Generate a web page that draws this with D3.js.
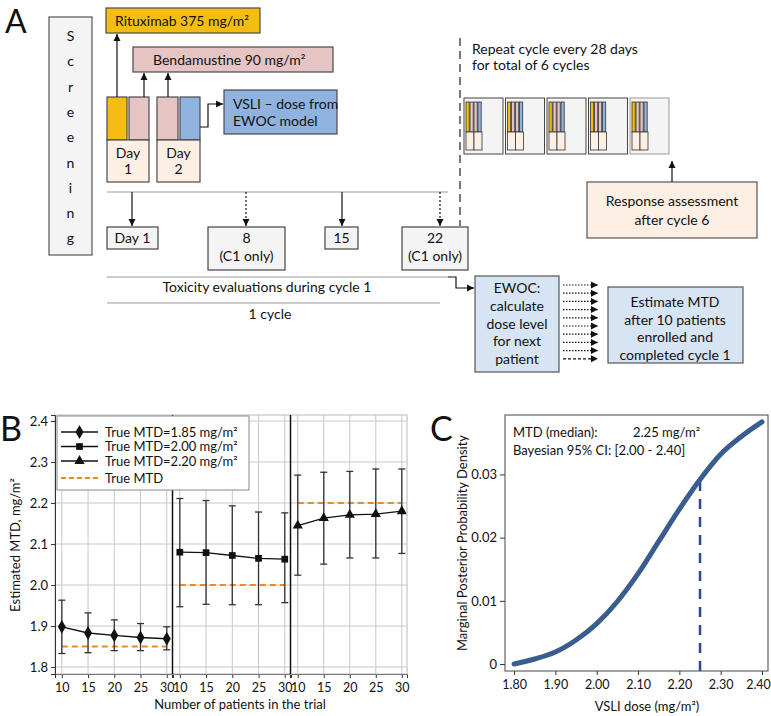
<!DOCTYPE html>
<html><head><meta charset="utf-8">
<script src="https://cdn.jsdelivr.net/npm/d3@7"></script>
<style>body{margin:0;background:#fff}svg{display:block;font-family:Lato,"Noto Sans",sans-serif}</style>
</head><body>
<script>
// ---------- Data ----------
const nPatients = [10, 15, 20, 25, 30];
const trueMTD = [1.85, 2.00, 2.20];
const seriesNames = ["True MTD=1.85 mg/m²", "True MTD=2.00 mg/m²", "True MTD=2.20 mg/m²"];
const est185 = [1.898, 1.883, 1.877, 1.872, 1.869];
const lo185  = [1.833, 1.835, 1.840, 1.840, 1.842];
const hi185  = [1.963, 1.932, 1.915, 1.906, 1.898];
const est200 = [2.080, 2.079, 2.072, 2.065, 2.063];
const lo200  = [1.947, 1.953, 1.952, 1.952, 1.957];
const hi200  = [2.211, 2.206, 2.193, 2.178, 2.176];
const est220 = [2.145, 2.163, 2.171, 2.173, 2.180];
const lo220  = [2.024, 2.051, 2.066, 2.066, 2.077];
const hi220  = [2.268, 2.275, 2.277, 2.283, 2.283];
const yTicksB = [1.8, 1.9, 2.0, 2.1, 2.2, 2.3, 2.4];

const doses   = [1.80, 1.85, 1.90, 1.95, 2.00, 2.05, 2.10, 2.15, 2.20, 2.25, 2.30, 2.35, 2.40];
const density = [0.0000, 0.0008, 0.0019, 0.0038, 0.0064, 0.0099, 0.0143, 0.0194, 0.0245, 0.0292, 0.0332, 0.0360, 0.0383];
const mtdMedian = 2.25;
const xTicksC = [1.80, 1.90, 2.00, 2.10, 2.20, 2.30, 2.40];
const yTicksC = [0, 0.01, 0.02, 0.03];
const textC = ["MTD (median):", "2.25 mg/m²", "Bayesian 95% CI: [2.00 - 2.40]"];

// Panel A text
const screening = "Screening".split("");
const evalDays = ["Day 1", "8|(C1 only)", "15", "22|(C1 only)"];
const ewocLines = ["EWOC:", "calculate", "dose level", "for next", "patient"];
const estLines = ["Estimate MTD", "after 10 patients", "enrolled and", "completed cycle 1"];

// ---------- Setup ----------
const svg = d3.select("body").append("svg").attr("width", 771).attr("height", 716);
const FS = 14;
const gold = "#f5bd12", pink = "#e6c4c4", blueDark = "#8fb2de", peach = "#fdefe3", lightBlue = "#d6e4f4", boxGrey = "#f4f4f4";

function rect(x, y, w, h, fill, stroke = "#4a4a4a", sw = 1.2) {
  return svg.append("rect").attr("x", x).attr("y", y).attr("width", w).attr("height", h)
    .attr("fill", fill).attr("stroke", stroke).attr("stroke-width", sw);
}
function text(x, y, s, opts = {}) {
  return svg.append("text").attr("x", x).attr("y", y).text(s)
    .attr("font-size", opts.size || FS).attr("text-anchor", opts.anchor || "start")
    .attr("fill", opts.fill || "#111");
}
function arrow(pts, dash, color = "#111") {
  svg.append("path").attr("d", d3.line()(pts)).attr("fill", "none").attr("stroke", color)
    .attr("stroke-width", 1.2).attr("stroke-dasharray", dash || null);
  const [x1, y1] = pts[pts.length - 2], [x2, y2] = pts[pts.length - 1];
  const a = Math.atan2(y2 - y1, x2 - x1), L = 7, W = 3.5;
  const p = [[x2, y2],
    [x2 - L * Math.cos(a) + W * Math.sin(a), y2 - L * Math.sin(a) - W * Math.cos(a)],
    [x2 - L * Math.cos(a) - W * Math.sin(a), y2 - L * Math.sin(a) + W * Math.cos(a)]];
  svg.append("path").attr("d", "M" + p.join("L") + "Z").attr("fill", color);
}
function hline(x1, x2, y, color = "#999", dash) {
  svg.append("line").attr("x1", x1).attr("x2", x2).attr("y1", y).attr("y2", y)
    .attr("stroke", color).attr("stroke-width", 1.2).attr("stroke-dasharray", dash || null);
}

// ---------- Panel A ----------
text(5, 33, "A", { size: 32 });
rect(49, 17, 43, 238, boxGrey, "#555");
screening.forEach((c, i) => text(70.5, 41 + i * 25.3, c, { anchor: "middle" }));

rect(106, 8, 154, 25, gold);
text(115, 26, "Rituximab 375 mg/m²");
rect(133, 47, 200, 25, pink);
text(153, 65, "Bendamustine 90 mg/m²");

rect(107, 97, 20, 43, gold); rect(129, 97, 20, 43, pink);
rect(107, 140, 42, 42, peach);
text(128, 158, "Day", { anchor: "middle" }); text(128, 174, "1", { anchor: "middle" });
rect(157, 97, 21, 43, pink); rect(180, 97, 20, 43, blueDark);
rect(157, 140, 43, 42, peach);
text(178.5, 158, "Day", { anchor: "middle" }); text(178.5, 174, "2", { anchor: "middle" });
arrow([[117, 97], [117, 34]]);
arrow([[144, 97], [144, 73]]);
arrow([[168, 97], [168, 73]]);

rect(224, 90, 113, 44, blueDark);
text(233, 109, "VSLI   – dose from");
text(233, 126, "EWOC model");
arrow([[200, 127], [208, 127], [208, 104], [223, 104]]);

hline(107, 448, 192);
const dayX = [132, 246, 342, 440];
dayX.forEach((x, i) => arrow([[x, 192], [x, 226]], i % 2 ? "2,2" : null));
const dayBoxes = [[107, 51, 22], [208, 77, 43], [325, 33, 22], [402, 66, 43]];
evalDays.forEach((s, i) => {
  const [bx, bw, bh] = dayBoxes[i];
  rect(bx, 227, bw, bh, boxGrey, "#444");
  s.split("|").forEach((t, j) => text(bx + bw / 2, 243 + j * 18, t, { anchor: "middle" }));
});

svg.append("line").attr("x1", 460).attr("x2", 460).attr("y1", 38).attr("y2", 226)
  .attr("stroke", "#222").attr("stroke-width", 1.2).attr("stroke-dasharray", "8,5");

hline(107, 448, 277);
arrow([[448, 277], [456, 277], [456, 288], [474, 288]]);
text(267, 292, "Toxicity evaluations during cycle 1", { anchor: "middle" });
hline(107, 440, 303);
text(270, 319, "1 cycle", { anchor: "middle" });

text(472, 54, "Repeat cycle every 28 days");
text(472, 70, "for total of 6 cycles");
for (let i = 0; i < 5; i++) {
  const x0 = 464 + i * 41.5;
  rect(x0, 98, 39, 56, boxGrey, i === 4 ? "#999" : "#444", 1);
  const st = [[1, gold], [5, pink], [9, pink], [13, blueDark]];
  st.forEach(([dx, f]) => rect(x0 + dx + 1, 102, 3.2, 30, f, "#333", 0.8));
  rect(x0 + 2, 132, 8, 18, peach, "#333", 0.8);
  rect(x0 + 10, 132, 8, 18, peach, "#333", 0.8);
}
rect(587, 182, 170, 56, peach, "#555");
text(672, 206, "Response assessment", { anchor: "middle" });
text(672, 225, "after cycle 6", { anchor: "middle" });
arrow([[672, 182], [672, 161]]);

rect(475, 276, 84, 96, lightBlue, "#555");
ewocLines.forEach((s, i) => text(517, 293 + i * 17.8, s, { anchor: "middle" }));
for (let i = 0; i < 10; i++) {
  arrow([[563, 285 + i * 8.2], [598, 285 + i * 8.2]], i === 9 ? "3,2" : "1.5,1.5");
}
rect(608, 287, 135, 76, lightBlue, "#555");
estLines.forEach((s, i) => text(675, 307 + i * 17.7, s, { anchor: "middle" }));

// ---------- Panel B ----------
text(0, 441, "B", { size: 34 });
const yB = d3.scaleLinear().domain([1.783, 2.4146]).range([674, 415]);
const panelsX = [[55, 172], [173, 290], [291, 407]];
const estAll = [est185, est200, est220], loAll = [lo185, lo200, lo220], hiAll = [hi185, hi200, hi220];
const symbols = [d3.symbolDiamond, d3.symbolSquare, d3.symbolTriangle];
const symSize = [55, 45, 45];
const gB = svg.append("g");
yTicksB.forEach(v => gB.append("line").attr("x1", 55).attr("x2", 407).attr("y1", yB(v)).attr("y2", yB(v))
  .attr("stroke", "#c8c8c8").attr("stroke-width", 1));
panelsX.forEach((r, i) => {
  const x = d3.scaleLinear().domain([8.7, 31]).range(r);
  const g = gB.append("g");
  nPatients.forEach(n => g.append("line").attr("x1", x(n)).attr("x2", x(n)).attr("y1", 415).attr("y2", 674)
    .attr("stroke", "#c8c8c8"));
  g.append("g").attr("transform", "translate(0,674)")
    .call(d3.axisBottom(x).tickValues(nPatients).tickSize(4).tickFormat(d3.format("d")))
    .call(a => { a.select(".domain").attr("stroke", "#333"); a.selectAll("line").attr("stroke", "#333");
      a.selectAll("text").attr("font-size", 12.5).attr("font-family", "Lato").attr("fill", "#111").attr("dy", "0.9em"); });
  g.append("line").attr("x1", x(10)).attr("x2", x(30)).attr("y1", yB(trueMTD[i])).attr("y2", yB(trueMTD[i]))
    .attr("stroke", "#e8892b").attr("stroke-width", 2).attr("stroke-dasharray", "6,4");
  nPatients.forEach((n, j) => {
    const cx = x(n);
    g.append("line").attr("x1", cx).attr("x2", cx).attr("y1", yB(loAll[i][j])).attr("y2", yB(hiAll[i][j]))
      .attr("stroke", "#333").attr("stroke-width", 1.3);
    [loAll[i][j], hiAll[i][j]].forEach(v => g.append("line").attr("x1", cx - 3.5).attr("x2", cx + 3.5)
      .attr("y1", yB(v)).attr("y2", yB(v)).attr("stroke", "#333").attr("stroke-width", 1.3));
  });
  g.append("path").datum(estAll[i]).attr("fill", "none").attr("stroke", "#111").attr("stroke-width", 1.3)
    .attr("d", d3.line().x((d, j) => x(nPatients[j])).y(d => yB(d)));
  estAll[i].forEach((v, j) => g.append("path").attr("d", d3.symbol(symbols[i], symSize[i])())
    .attr("transform", `translate(${x(nPatients[j])},${yB(v)})`).attr("fill", "#111"));
});
gB.append("rect").attr("x", 55).attr("y", 415).attr("width", 352).attr("height", 259)
  .attr("fill", "none").attr("stroke", "#bbb");
[172.5, 290.5].forEach(x => gB.append("line").attr("x1", x).attr("x2", x).attr("y1", 415).attr("y2", 674)
  .attr("stroke", "#111").attr("stroke-width", 1.5));
gB.append("g").attr("transform", "translate(55,0)")
  .call(d3.axisLeft(yB).tickValues(yTicksB).tickSize(4).tickFormat(d3.format(".1f")))
  .call(a => { a.select(".domain").attr("stroke", "#333"); a.selectAll("line").attr("stroke", "#333");
    a.selectAll("text").attr("font-size", 13).attr("font-family", "Lato").attr("fill", "#111"); });
text(240, 709, "Number of patients in the trial", { anchor: "middle", size: 13 });
text(0, 0, "Estimated MTD, mg/m²", { anchor: "middle", size: 13 }).attr("transform", "translate(20,545) rotate(-90)");
// legend (drawn on top of the dividers)
const gL = svg.append("g");
gL.append("rect").attr("x", 57).attr("y", 416).attr("width", 192).attr("height", 74)
  .attr("fill", "#fff").attr("stroke", "#888");
const legY = [432, 446.5, 461, 478];
seriesNames.forEach((s, i) => {
  gL.append("line").attr("x1", 61).attr("x2", 98).attr("y1", legY[i]).attr("y2", legY[i]).attr("stroke", "#111").attr("stroke-width", 1.3);
  gL.append("path").attr("d", d3.symbol(symbols[i], symSize[i])()).attr("transform", `translate(79.5,${legY[i]})`).attr("fill", "#111");
  gL.append("text").attr("x", 105).attr("y", legY[i] + 4.5).text(s).attr("font-size", 13).attr("fill", "#111");
});
gL.append("line").attr("x1", 61).attr("x2", 98).attr("y1", legY[3]).attr("y2", legY[3])
  .attr("stroke", "#e8892b").attr("stroke-width", 2).attr("stroke-dasharray", "5,3");
gL.append("text").attr("x", 105).attr("y", legY[3] + 4.5).text("True MTD").attr("font-size", 13).attr("fill", "#111");

// ---------- Panel C ----------
text(430, 441, "C", { size: 34 });
const xC = d3.scaleLinear().domain([1.778, 2.4145]).range([505, 768]);
const yC = d3.scaleLinear().domain([-0.0011, 0.0394]).range([671, 415]);
const gC = svg.append("g");
gC.append("rect").attr("x", 505).attr("y", 415).attr("width", 263).attr("height", 256)
  .attr("fill", "none").attr("stroke", "#444").attr("stroke-width", 1);
gC.append("g").attr("transform", "translate(0,671)")
  .call(d3.axisBottom(xC).tickValues(xTicksC).tickSize(4).tickFormat(d3.format(".2f")))
  .call(a => { a.select(".domain").remove(); a.selectAll("line").attr("stroke", "#333");
    a.selectAll("text").attr("font-size", 12.5).attr("font-family", "Lato").attr("fill", "#111").attr("dy", "0.9em");
    a.selectAll(".tick").filter(d => d === 2.40).select("text").attr("dx", -4); });
gC.append("g").attr("transform", "translate(505,0)")
  .call(d3.axisLeft(yC).tickValues(yTicksC).tickSize(5).tickFormat(d => d === 0 ? "0" : d3.format(".2f")(d)))
  .call(a => { a.select(".domain").remove(); a.selectAll("line").attr("stroke", "#333");
    a.selectAll("text").attr("font-size", 13).attr("font-family", "Lato").attr("fill", "#111"); });
const iMed = doses.indexOf(mtdMedian);
gC.append("line").attr("x1", xC(mtdMedian)).attr("x2", xC(mtdMedian)).attr("y1", 671).attr("y2", yC(density[iMed]))
  .attr("stroke", "#2b4597").attr("stroke-width", 2.5).attr("stroke-dasharray", "10,8");
gC.append("path").datum(doses).attr("fill", "none").attr("stroke", "#3a5d8f").attr("stroke-width", 5)
  .attr("stroke-linecap", "round")
  .attr("d", d3.line().x(d => xC(d)).y((d, i) => yC(density[i])).curve(d3.curveMonotoneX));
text(513, 437, textC[0], { size: 13 });
text(633, 437, textC[1], { size: 13 });
text(513, 455, textC[2], { size: 13 });
text(647, 711, "VSLI dose (mg/m²)", { anchor: "middle", size: 13 });
text(0, 0, "Marginal Posterior Probability Density", { anchor: "middle", size: 13 })
  .attr("transform", "translate(467,543) rotate(-90)");
</script>
</body></html>
